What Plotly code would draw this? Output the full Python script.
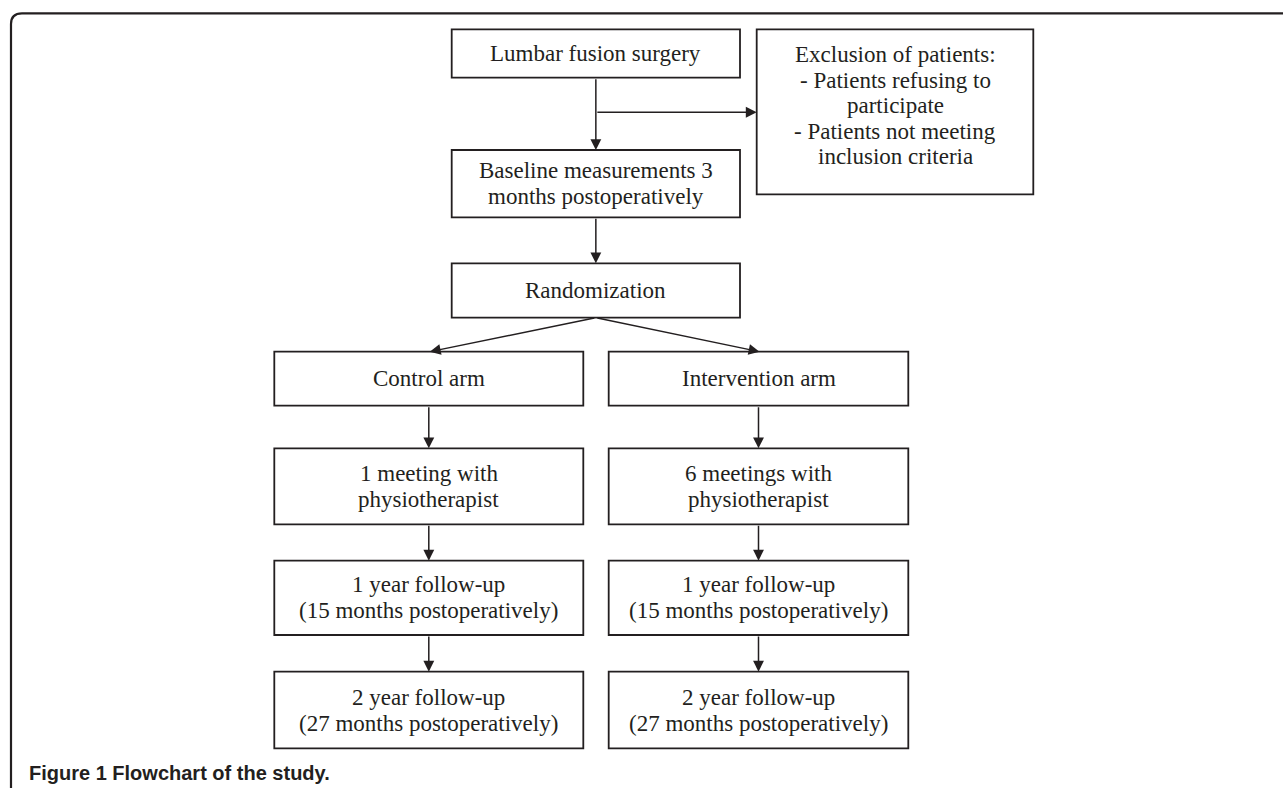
import plotly.graph_objects as go

# ---- content (text) ----
box_ids = ["lumbar", "exclusion", "baseline", "random", "control", "interv",
           "meet_c", "meet_i", "fu1_c", "fu1_i", "fu2_c", "fu2_i"]
box_texts = [
    ["Lumbar fusion surgery"],
    ["Exclusion of patients:", "- Patients refusing to", "participate",
     "- Patients not meeting", "inclusion criteria"],
    ["Baseline measurements 3", "months postoperatively"],
    ["Randomization"],
    ["Control arm"],
    ["Intervention arm"],
    ["1 meeting with", "physiotherapist"],
    ["6 meetings with", "physiotherapist"],
    ["1 year follow-up", "(15 months postoperatively)"],
    ["1 year follow-up", "(15 months postoperatively)"],
    ["2 year follow-up", "(27 months postoperatively)"],
    ["2 year follow-up", "(27 months postoperatively)"],
]
caption_bold = "Figure 1"
caption_rest = "Flowchart of the study."

# links: (from, to)
links = [("lumbar", "baseline"), ("lumbar", "exclusion"), ("baseline", "random"),
         ("random", "control"), ("random", "interv"),
         ("control", "meet_c"), ("interv", "meet_i"),
         ("meet_c", "fu1_c"), ("meet_i", "fu1_i"),
         ("fu1_c", "fu2_c"), ("fu1_i", "fu2_i")]

# ---- layout geometry (pixels, page coordinates) ----
W, H = 1283, 788
geom = {
    "lumbar":   (451.7, 740.0, 29.3, 77.7),
    "exclusion": (756.7, 1033.3, 29.3, 194.3),
    "baseline": (451.7, 740.0, 150.0, 217.3),
    "random":   (451.7, 740.0, 263.3, 317.7),
    "control":  (274.3, 583.3, 351.7, 405.7),
    "interv":   (608.7, 908.3, 351.7, 405.7),
    "meet_c":   (274.3, 583.3, 448.3, 524.3),
    "meet_i":   (608.7, 908.3, 448.3, 524.3),
    "fu1_c":    (274.3, 583.3, 560.7, 635.0),
    "fu1_i":    (608.7, 908.3, 560.7, 635.0),
    "fu2_c":    (274.3, 583.3, 671.7, 748.3),
    "fu2_i":    (608.7, 908.3, 671.7, 748.3),
}
INK = "#231f20"
LW = 1.8
FONT_SIZE = 23
LINE_GAP = 26.0
SERIF = "Liberation Serif, Times New Roman, serif"

fig = go.Figure()
shapes = []
annotations = []

# outer rounded frame (open to the right and bottom)
shapes.append(dict(type="path", xref="x", yref="y",
                   path="M 11,800 L 11,24 Q 11,13.3 22,13.3 L 1300,13.3",
                   line=dict(color=INK, width=2.2)))

cx = lambda b: (geom[b][0] + geom[b][1]) / 2

for bid, lines in zip(box_ids, box_texts):
    x0, x1, y0, y1 = geom[bid]
    shapes.append(dict(type="rect", xref="x", yref="y", x0=x0, x1=x1, y0=y0, y1=y1,
                       line=dict(color=INK, width=LW), fillcolor="white", layer="below"))
    n = len(lines)
    if bid == "exclusion":
        ys = [y0 + 25.5 + i * 25.4 for i in range(n)]
    else:
        c = (y0 + y1) / 2
        ys = [c + (i - (n - 1) / 2) * LINE_GAP for i in range(n)]
    for t, yy in zip(lines, ys):
        annotations.append(dict(x=(x0 + x1) / 2, y=yy, xref="x", yref="y", text=t,
                                showarrow=False, xanchor="center", yanchor="middle",
                                font=dict(family=SERIF, size=FONT_SIZE, color=INK)))

def arrow(x_from, y_from, x_to, y_to):
    annotations.append(dict(x=x_to, y=y_to, ax=x_from, ay=y_from,
                            xref="x", yref="y", axref="x", ayref="y", text="",
                            showarrow=True, arrowhead=2, arrowsize=1.45,
                            arrowwidth=1.5, arrowcolor=INK, standoff=0, startstandoff=0))

for a, b in links:
    if b == "exclusion":
        yy = 112.3
        arrow(cx(a), yy, geom[b][0], yy)
    elif a == "random":
        arrow(cx(a), geom[a][3], cx(b) + 1, geom[b][2])
    else:
        arrow(cx(a), geom[a][3], cx(a), geom[b][2])

# caption
annotations.append(dict(x=26.5, y=772.5, xref="x", yref="y", showarrow=False,
                        xanchor="left", yanchor="middle",
                        text="<b>" + caption_bold + " " + caption_rest + "</b>",
                        font=dict(family="Liberation Sans, Arial, sans-serif",
                                  size=20, color=INK)))

fig.update_layout(
    width=W, height=H, margin=dict(l=0, r=0, t=0, b=0),
    paper_bgcolor="white", plot_bgcolor="white",
    xaxis=dict(range=[0, W], visible=False, fixedrange=True),
    yaxis=dict(range=[H, 0], visible=False, fixedrange=True),
    shapes=shapes, annotations=annotations, showlegend=False,
)
fig.write_html("out.html", config={"displayModeBar": False},
               post_script="document.body.style.margin='0';document.body.style.overflow='hidden';")
